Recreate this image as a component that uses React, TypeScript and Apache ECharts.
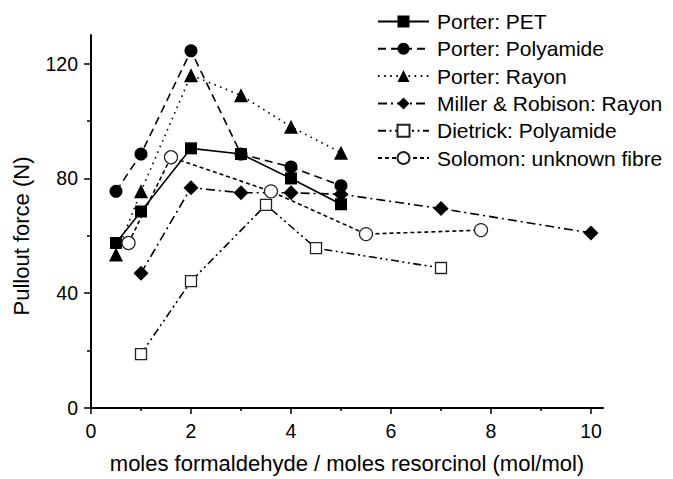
import React, { useEffect, useRef } from "react";
import * as echarts from "echarts";

// Pullout force vs. formaldehyde/resorcinol molar ratio
const xPorter = [0.5, 1, 2, 3, 4, 5];
const yPorterPET = [57.5, 68.5, 90.5, 88.5, 80, 71];
const yPorterPolyamide = [75.5, 88.5, 124.5, 88.5, 84, 77.5];
const yPorterRayon = [53.5, 75.5, 116, 109, 98, 89];

const xMiller = [1, 2, 3, 4, 5, 7, 10];
const yMiller = [47, 76.8, 75, 75, 74.5, 69.5, 61];

const xDietrick = [1, 2, 3.5, 4.5, 7];
const yDietrick = [18.8, 44.2, 70.8, 55.7, 48.8];

const xSolomon = [0.75, 1.6, 3.6, 5.5, 7.8];
const ySolomon = [57.5, 87.4, 75.5, 60.6, 62];

const xMajorTicks = [0, 2, 4, 6, 8, 10];
const xMinorTicks = [1, 3, 5, 7, 9];
const yMajorTicks = [0, 40, 80, 120];
const yMinorTicks = [20, 60, 100];

const FONT = "'Liberation Sans', Arial, Helvetica, sans-serif";

const pairs = (xs: number[], ys: number[]) => xs.map((x, i) => [x, ys[i]]);

export default function App() {
  const ref = useRef<HTMLDivElement>(null);

  useEffect(() => {
    if (!ref.current) return;
    const chart = echarts.init(ref.current, undefined, { renderer: "svg" });

    const X_MIN = 0;
    const X_MAX = 10.24;
    const Y_MIN = 0;
    const Y_MAX = 130;

    const line = (
      name: string,
      xs: number[],
      ys: number[],
      symbol: string,
      symbolSize: number,
      dash: any,
      open = false
    ) => ({
      name,
      type: "line",
      data: pairs(xs, ys),
      xAxisIndex: 0,
      yAxisIndex: 0,
      symbol,
      symbolSize,
      showAllSymbol: true,
      lineStyle: { color: "#000", width: 1.6, type: dash },
      itemStyle: open
        ? { color: "#fff", borderColor: "#222", borderWidth: 1.3 }
        : { color: "#000", borderWidth: 0 },
      emphasis: { disabled: true },
      z: 3,
    });

    chart.setOption({
      animation: false,
      backgroundColor: "#fff",
      textStyle: { fontFamily: FONT },
      grid: { left: 91, right: 70, top: 35, bottom: 69, containLabel: false },
      legend: {
        orient: "vertical",
        left: 372,
        top: 6,
        itemWidth: 51,
        itemHeight: 15,
        itemGap: 6.3,
        textStyle: { fontFamily: FONT, fontSize: 21, color: "#000", lineHeight: 21, padding: [0, 0, 0, 3] },
        data: [
          "Porter: PET",
          "Porter: Polyamide",
          "Porter: Rayon",
          "Miller & Robison: Rayon",
          "Dietrick: Polyamide",
          "Solomon: unknown fibre",
        ],
      },
      xAxis: [
        {
          type: "value",
          min: X_MIN,
          max: X_MAX,
          position: "bottom",
          name: "moles formaldehyde / moles resorcinol (mol/mol)",
          nameLocation: "middle",
          nameGap: 44,
          nameTextStyle: { fontFamily: FONT, fontSize: 22, color: "#000" },
          axisLine: { show: true, onZero: false, lineStyle: { color: "#000", width: 2 } },
          axisTick: { show: true, length: 6, customValues: xMajorTicks, lineStyle: { color: "#000", width: 1.5 } },
          axisLabel: { customValues: xMajorTicks, margin: 13, fontFamily: FONT, fontSize: 19.5, color: "#000" },
          splitLine: { show: false },
        },
        {
          type: "value",
          min: X_MIN,
          max: X_MAX,
          position: "bottom",
          axisLine: { show: false, onZero: false },
          axisTick: { show: true, length: 3, customValues: xMinorTicks, lineStyle: { color: "#000", width: 1.5 } },
          axisLabel: { show: false },
          splitLine: { show: false },
        },
      ],
      yAxis: [
        {
          type: "value",
          min: Y_MIN,
          max: Y_MAX,
          position: "left",
          axisLine: { show: true, onZero: false, lineStyle: { color: "#000", width: 2 } },
          axisTick: { show: true, length: 7, customValues: yMajorTicks, lineStyle: { color: "#000", width: 1.5 } },
          axisLabel: { customValues: yMajorTicks, margin: 13, fontFamily: FONT, fontSize: 19.5, color: "#000" },
          splitLine: { show: false },
        },
        {
          type: "value",
          min: Y_MIN,
          max: Y_MAX,
          position: "left",
          axisLine: { show: false, onZero: false },
          axisTick: { show: true, length: 4, customValues: yMinorTicks, lineStyle: { color: "#000", width: 1.5 } },
          axisLabel: { show: false },
          splitLine: { show: false },
        },
      ],
      graphic: [
        {
          type: "text",
          x: 21,
          y: 236,
          rotation: Math.PI / 2,
          style: {
            text: "Pullout force (N)",
            fontFamily: FONT,
            fontSize: 22,
            fill: "#000",
            align: "center",
            verticalAlign: "middle",
          },
        },
      ],
      series: [
        line("Porter: PET", xPorter, yPorterPET, "rect", 12, "solid"),
        line("Porter: Polyamide", xPorter, yPorterPolyamide, "circle", 13, [8, 5]),
        line("Porter: Rayon", xPorter, yPorterRayon, "triangle", 14, [1.6, 4.5]),
        line("Miller & Robison: Rayon", xMiller, yMiller, "diamond", 15, [9, 4, 2, 4]),
        line("Dietrick: Polyamide", xDietrick, yDietrick, "rect", 11, [8, 3.5, 2, 3.5, 2, 3.5], true),
        line("Solomon: unknown fibre", xSolomon, ySolomon, "circle", 13, [4, 3], true),
      ],
    });

    return () => chart.dispose();
  }, []);

  return (
    <div
      ref={ref}
      style={{ position: "absolute", left: 0, top: 0, width: 673, height: 479 }}
    />
  );
}
